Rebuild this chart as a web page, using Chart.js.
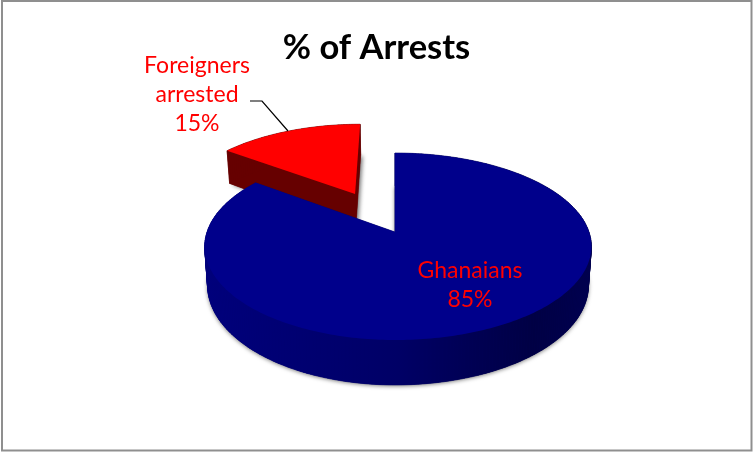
<!DOCTYPE html>
<html>
<head>
<meta charset="utf-8">
<style>html,body{margin:0;padding:0;background:#fff}canvas{display:block}</style>
<script src="https://cdn.jsdelivr.net/npm/chart.js@4"></script>
</head>
<body>
<canvas id="c" width="753" height="452"></canvas>
<script>
const categories = ["Ghanaians", "Foreigners arrested"];
const shares = [85, 15];
const sliceColors = ["#00008b", "#ff0000"];
const titleText = "% of Arrests";

// Perspective view of the pie plane, applied to each arc element the library lays out
const view = {x0:395, y0:232, axL:188, axR:194, by:91.25, k:0.155, depth:38, shrink:0.985};
const labelFont = '23px Lato, "Open Sans", sans-serif';

function project(u, v, bottom){
  const w = 1 - view.k * v;
  const s = bottom ? view.shrink : 1;
  const ax = u < 0 ? view.axL : view.axR;
  return {
    x: view.x0 + ax * u / w * s,
    y: view.y0 + view.by * v / w + (bottom ? view.depth / w : 0)
  };
}

function outline(arc, style){
  const R = arc.outerRadius;
  const mid = (arc.startAngle + arc.endAngle) / 2;
  const e = (style.offset || 0) / R;
  const ox = Math.cos(mid) * e, oy = Math.sin(mid) * e;
  const pts = [[ox, oy]];
  const n = Math.ceil((arc.endAngle - arc.startAngle) / (Math.PI / 180));
  for (let i = 0; i <= n; i++){
    const a = arc.startAngle + (arc.endAngle - arc.startAngle) * i / n;
    pts.push([ox + Math.cos(a), oy + Math.sin(a)]);
  }
  return pts;
}

function trace(ctx, list){
  ctx.beginPath();
  list.forEach((p, i) => i ? ctx.lineTo(p.x, p.y) : ctx.moveTo(p.x, p.y));
  ctx.closePath();
}

const perspectivePie = {
  id: "perspectivePie",
  beforeDatasetDraw(chart, args){
    const ctx = chart.ctx;
    const arcs = chart.getDatasetMeta(args.index).data;
    [1, 0].forEach(i => {
      const arc = arcs[i];
      const pts = outline(arc, arc.options);
      const top = pts.map(p => project(p[0], p[1], false));
      const bot = pts.map(p => project(p[0], p[1], true));
      const isBlue = i === 0;
      let wall = "#660000";
      if (isBlue){
        wall = ctx.createLinearGradient(205, 0, 591, 0);
        wall.addColorStop(0, "#00007c");
        wall.addColorStop(0.5, "#000066");
        wall.addColorStop(0.85, "#000044");
        wall.addColorStop(1, "#00004e");
      }
      // soft shadow cast by the lower face
      ctx.save();
      ctx.shadowColor = "rgba(0,0,0,0.55)";
      ctx.shadowBlur = 4;
      ctx.shadowOffsetX = isBlue ? 0 : 2;
      ctx.shadowOffsetY = 1;
      ctx.fillStyle = isBlue ? "#000066" : "#660000";
      trace(ctx, bot);
      ctx.fill();
      ctx.restore();
      // side walls
      ctx.fillStyle = wall;
      ctx.strokeStyle = wall;
      ctx.lineWidth = 0.6;
      for (let j = 0; j < top.length; j++){
        const q = (j + 1) % top.length;
        trace(ctx, [top[j], top[q], bot[q], bot[j]]);
        ctx.fill();
        ctx.stroke();
      }
      // upper face
      ctx.fillStyle = arc.options.backgroundColor;
      trace(ctx, top);
      ctx.fill();
    });
    return false;
  },
  afterDraw(chart){
    const ctx = chart.ctx;
    const total = shares.reduce((a, b) => a + b, 0);
    const pct = shares.map(s => Math.round(s / total * 100) + "%");
    // leader line
    ctx.save();
    ctx.strokeStyle = "#000";
    ctx.lineWidth = 1.2;
    ctx.beginPath();
    ctx.moveTo(250, 101);
    ctx.lineTo(262, 101);
    ctx.lineTo(288, 131);
    ctx.stroke();
    // data labels
    ctx.fillStyle = "#ff0000";
    ctx.font = labelFont;
    ctx.textAlign = "center";
    ctx.textBaseline = "middle";
    ctx.fillText("Foreigners", 197, 66);
    ctx.fillText("arrested", 197, 95);
    ctx.fillText(pct[1], 197, 124);
    ctx.fillText(categories[0], 470, 271);
    ctx.fillText(pct[0], 470, 300);
    // outer frame
    ctx.strokeStyle = "#8f8f8f";
    ctx.lineWidth = 2;
    ctx.strokeRect(2, 1, 749.5, 449.5);
    ctx.restore();
  }
};

new Chart(document.getElementById("c"), {
  type: "pie",
  data: {
    labels: categories,
    datasets: [{
      data: shares,
      backgroundColor: sliceColors,
      borderWidth: 0,
      offset: [0, 50],
      radius: 100
    }]
  },
  options: {
    responsive: false,
    animation: false,
    devicePixelRatio: 1,
    layout: {padding: 0},
    plugins: {
      legend: {display: false},
      tooltip: {enabled: false},
      title: {
        display: true,
        text: titleText,
        color: "#000",
        font: {family: 'Lato, "Open Sans", sans-serif', size: 34.5, weight: "bold"},
        padding: {top: 27, bottom: 10}
      }
    }
  },
  plugins: [perspectivePie]
});
</script>
</body>
</html>
